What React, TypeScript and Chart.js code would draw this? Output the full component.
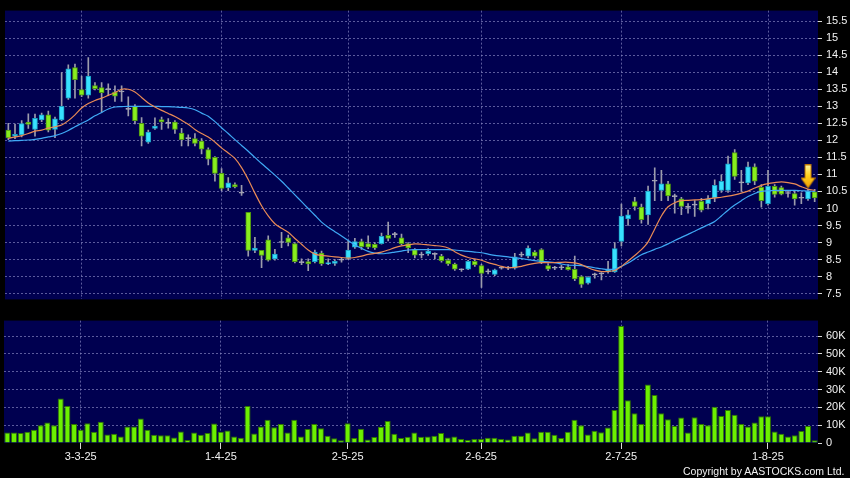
import React, { useEffect, useRef } from 'react';
import { Chart, registerables } from 'chart.js';

Chart.register(...registerables);

// ---- Daily OHLC (HKD) ----
const open = [
  12.30, 12.12, 12.16, 12.54, 12.32, 12.60, 12.75, 12.32, 12.60, 13.24,
  14.14, 13.49, 13.33, 13.61, 13.55, 13.49, 13.42, 13.42, 12.91, 13.00,
  12.50, 11.95, 12.35, 12.61, 12.50, 12.54, 12.21, 12.05, 12.05, 11.98,
  11.73, 11.50, 11.03, 10.61, 10.70, 10.45, 9.89, 8.77, 8.77, 9.08,
  8.52, 9.00, 9.14, 8.97, 8.41, 8.44, 8.44, 8.69, 8.37, 8.39,
  8.48, 8.53, 8.86, 9.03, 8.97, 8.95, 8.97, 9.21, 9.23, 9.14,
  8.97, 8.79, 8.63, 8.67, 8.65, 8.60, 8.48, 8.37, 8.20, 8.22,
  8.45, 8.32, 8.14, 8.06, 8.25, 8.25, 8.25, 8.63, 8.60, 8.72,
  8.79, 8.32, 8.25, 8.26, 8.29, 8.21, 8.00, 7.81, 8.05, 8.08,
  8.14, 8.14, 9.03, 9.69, 10.20, 10.04, 9.81, 10.80, 10.53, 10.72,
  10.35, 10.28, 10.03, 10.10, 10.21, 10.14, 10.31, 10.53, 10.53, 11.64,
  10.75, 10.75, 11.22, 10.62, 10.14, 10.65, 10.61, 10.44, 10.44, 10.30,
  10.28, 10.49,
];
const high = [
  12.50, 12.48, 12.58, 12.78, 12.77, 12.80, 12.86, 12.68, 13.99, 14.22,
  14.24, 13.89, 14.43, 13.70, 13.70, 13.66, 13.60, 13.60, 13.28, 13.05,
  12.67, 12.30, 12.66, 12.68, 12.64, 12.58, 12.35, 12.16, 12.20, 12.05,
  11.78, 11.52, 11.17, 10.91, 10.75, 10.68, 9.89, 9.15, 8.77, 9.20,
  8.80, 9.30, 9.22, 9.00, 8.52, 8.52, 8.78, 8.75, 8.52, 8.50,
  8.55, 9.05, 9.12, 9.10, 9.20, 9.00, 9.28, 9.60, 9.30, 9.25,
  9.00, 8.82, 8.72, 8.82, 8.70, 8.65, 8.52, 8.40, 8.23, 8.48,
  8.50, 8.36, 8.22, 8.22, 8.30, 8.30, 8.68, 8.72, 8.90, 8.76,
  8.82, 8.38, 8.30, 8.33, 8.35, 8.60, 8.03, 8.00, 8.10, 8.12,
  8.45, 9.00, 10.13, 9.95, 10.33, 10.13, 10.66, 11.19, 11.12, 10.80,
  10.42, 10.33, 10.14, 10.23, 10.30, 10.38, 10.84, 10.99, 11.54, 11.73,
  11.12, 11.36, 11.31, 10.70, 11.12, 10.70, 10.66, 10.51, 10.51, 10.46,
  10.56, 10.56,
];
const low = [
  12.02, 12.05, 12.10, 12.35, 12.12, 12.55, 12.25, 12.08, 12.58, 13.20,
  13.24, 13.28, 13.24, 13.48, 12.82, 13.32, 13.14, 13.14, 12.72, 12.48,
  11.84, 11.91, 12.32, 12.32, 12.36, 12.20, 11.84, 11.84, 11.84, 11.60,
  11.28, 10.80, 10.52, 10.52, 10.60, 10.38, 8.60, 8.70, 8.26, 8.45,
  8.48, 8.85, 8.90, 8.40, 8.35, 8.17, 8.40, 8.33, 8.35, 8.33,
  8.42, 8.50, 8.83, 8.80, 8.82, 8.80, 8.95, 9.05, 9.15, 8.93,
  8.70, 8.55, 8.55, 8.62, 8.52, 8.42, 8.33, 8.18, 8.15, 8.20,
  8.30, 7.68, 8.08, 8.03, 8.22, 8.20, 8.22, 8.58, 8.55, 8.55,
  8.38, 8.17, 8.20, 8.20, 8.19, 7.88, 7.68, 7.78, 7.95, 7.90,
  8.10, 8.12, 8.90, 9.50, 9.95, 9.57, 9.53, 10.23, 10.23, 10.23,
  9.86, 9.82, 9.86, 9.77, 9.90, 9.99, 10.20, 10.47, 10.47, 10.85,
  10.50, 10.70, 10.70, 10.04, 10.10, 10.33, 10.40, 10.33, 10.10, 10.14,
  10.24, 10.20,
];
const close = [
  12.07, 12.18, 12.49, 12.47, 12.65, 12.75, 12.30, 12.63, 13.00, 14.10,
  13.78, 13.33, 13.89, 13.52, 13.40, 13.49, 13.30, 13.42, 12.91, 12.58,
  12.12, 12.24, 12.42, 12.54, 12.50, 12.32, 12.02, 12.05, 11.91, 11.74,
  11.45, 11.03, 10.59, 10.75, 10.63, 10.45, 8.77, 8.84, 8.62, 8.48,
  8.66, 9.00, 9.00, 8.44, 8.41, 8.37, 8.72, 8.38, 8.41, 8.45,
  8.48, 8.78, 9.03, 8.88, 8.86, 8.84, 9.18, 9.12, 9.23, 8.97,
  8.84, 8.63, 8.63, 8.75, 8.65, 8.47, 8.37, 8.22, 8.20, 8.45,
  8.34, 8.09, 8.14, 8.20, 8.25, 8.25, 8.58, 8.63, 8.84, 8.60,
  8.41, 8.22, 8.25, 8.26, 8.20, 7.93, 7.77, 7.98, 8.05, 8.08,
  8.20, 8.82, 9.78, 9.81, 10.06, 9.67, 10.51, 10.80, 10.72, 10.37,
  10.35, 10.06, 10.03, 10.10, 9.95, 10.28, 10.68, 10.80, 11.31, 10.94,
  10.75, 11.22, 10.80, 10.23, 10.65, 10.41, 10.42, 10.44, 10.28, 10.30,
  10.51, 10.31,
];

// ---- Moving averages ----
const maFast = [
  12.06, 12.1, 12.14, 12.2, 12.27, 12.3, 12.36, 12.4, 12.45, 12.58,
  12.75, 12.95, 13.08, 13.17, 13.24, 13.32, 13.4, 13.5, 13.5, 13.42,
  13.26, 13.1, 12.98, 12.88, 12.79, 12.7, 12.59, 12.47, 12.32, 12.2,
  12.1, 11.95, 11.78, 11.63, 11.47, 11.2, 10.85, 10.45, 10.08, 9.78,
  9.55, 9.42, 9.3, 9.12, 8.95, 8.78, 8.66, 8.62, 8.6, 8.58,
  8.56, 8.54, 8.56, 8.6, 8.65, 8.68, 8.72, 8.78, 8.85, 8.9,
  8.93, 8.96, 8.95, 8.93, 8.91, 8.89, 8.84, 8.73, 8.63, 8.56,
  8.52, 8.48, 8.41, 8.36, 8.3, 8.26, 8.27, 8.3, 8.35, 8.39,
  8.41, 8.41, 8.41, 8.42, 8.42, 8.4, 8.35, 8.26, 8.19, 8.15,
  8.15, 8.18, 8.3, 8.46, 8.62, 8.79, 9.02, 9.4, 9.78, 10.05,
  10.17, 10.23, 10.24, 10.25, 10.26, 10.28, 10.31, 10.33, 10.36, 10.4,
  10.45, 10.51, 10.6, 10.68, 10.73, 10.76, 10.78, 10.76, 10.72, 10.64,
  10.57, 10.53,
];
const maSlow = [
  11.98, 11.99, 12.0, 12.01, 12.03, 12.06, 12.1, 12.14, 12.2, 12.29,
  12.4, 12.5, 12.6, 12.72, 12.82, 12.92, 12.98, 12.99, 13.0, 13.0,
  13.0, 13.0, 13.0, 12.99, 12.99, 12.98, 12.97, 12.95, 12.9, 12.8,
  12.71, 12.55, 12.37, 12.2, 12.02, 11.85, 11.68, 11.5, 11.32, 11.15,
  10.98, 10.8, 10.6, 10.4, 10.2, 10.0, 9.8, 9.6, 9.45, 9.32,
  9.19, 9.06, 8.93, 8.83, 8.74, 8.69, 8.67, 8.69, 8.72, 8.75,
  8.78, 8.79, 8.79, 8.79, 8.79, 8.79, 8.79, 8.78, 8.76, 8.74,
  8.72, 8.7, 8.66, 8.62, 8.6, 8.58, 8.55, 8.53, 8.5, 8.47,
  8.45, 8.43, 8.41, 8.37, 8.34, 8.33, 8.32, 8.29, 8.26, 8.23,
  8.21, 8.22, 8.3, 8.4, 8.52, 8.64, 8.72, 8.8, 8.87, 8.96,
  9.06, 9.15, 9.24, 9.33, 9.43, 9.52, 9.62, 9.78, 9.95, 10.1,
  10.23, 10.35, 10.44, 10.5, 10.52, 10.53, 10.53, 10.53, 10.53, 10.52,
  10.51, 10.5,
];

// ---- Volume (thousands of shares) ----
const volumeK = [
  5.9, 5.9, 5.6, 6.3, 7.4, 10, 11.5, 10, 25, 20.7,
  10.6, 7.4, 11.1, 6.3, 11.9, 4.8, 5.2, 3.7, 9.3, 9.3,
  13.7, 7.4, 4.6, 4.4, 4.4, 3.1, 6.5, 1.7, 5.9, 4.6,
  5.6, 10.9, 6.3, 7, 3.7, 3, 20.7, 5.4, 9.3, 13,
  8.9, 10.6, 5.9, 13, 3.7, 7.8, 10.6, 8.3, 4.1, 2.6,
  1.5, 11.1, 2.8, 8, 2, 3.3, 9.1, 12.4, 5.2, 2.8,
  3.5, 5.9, 3.5, 3.7, 4.1, 5.6, 3.1, 3.7, 2.2, 1.7,
  2.2, 2.2, 3, 3, 2.2, 1.9, 4.1, 4.1, 5.9, 2.6,
  6.3, 6.3, 4.6, 2.8, 6.3, 13, 10, 4.8, 6.9, 6.1,
  8.7, 18.5, 65.7, 24, 16.7, 10.6, 32.8, 26.9, 16.7, 13.3,
  9.6, 14.3, 5.9, 14.4, 10.6, 10, 20.4, 15.2, 18.5, 15.9,
  10.7, 9.3, 11.5, 15, 15, 6.5, 5.2, 3.7, 4.3, 6.7,
  9.6, 1.5,
];

// ---- Axis ticks ----
const monthTickLabels = ['3-3-25', '1-4-25', '2-5-25', '2-6-25', '2-7-25', '1-8-25'];
const monthTickIndex = [11, 32, 51, 71, 92, 114];
const priceMin = 7.33;
const priceMax = 15.81;
const priceStep = 0.5;
const volMax = 68.7;
const volStep = 10;

// ---- Signal marker ----
const signalIndex = 120;
const signalPrice = 10.94;

const categories = open.map((_, i) => String(i));

const FONT = 'Liberation Sans, Arial, sans-serif';
const GRID = 'rgba(130,130,190,0.7)';
const TEXT = '#f2f2f2';

const plotBg = {
  id: 'plotBg',
  beforeDraw(chart: any) {
    const { ctx, chartArea: a } = chart;
    ctx.save();
    ctx.fillStyle = '#000050';
    ctx.fillRect(a.left, a.top, a.right - a.left, a.bottom - a.top);
    ctx.restore();
  },
};

function makeArrow(): HTMLCanvasElement {
  const c = document.createElement('canvas');
  c.width = 15;
  c.height = 24;
  const g = c.getContext('2d')!;
  const grad = g.createLinearGradient(0, 0, 0, 24);
  grad.addColorStop(0, '#fff6a8');
  grad.addColorStop(0.45, '#ffd21e');
  grad.addColorStop(1, '#f29a00');
  g.fillStyle = grad;
  g.beginPath();
  g.moveTo(4.5, 0.5);
  g.lineTo(10.5, 0.5);
  g.lineTo(10.5, 13.5);
  g.lineTo(14.5, 13.5);
  g.lineTo(7.5, 23.5);
  g.lineTo(0.5, 13.5);
  g.lineTo(4.5, 13.5);
  g.closePath();
  g.fill();
  g.strokeStyle = '#c07800';
  g.lineWidth = 1;
  g.stroke();
  return c;
}

export default function App() {
  const topRef = useRef<HTMLCanvasElement>(null);
  const botRef = useRef<HTMLCanvasElement>(null);

  useEffect(() => {
    const bodies = open.map((o, i) => [o, close[i]]);
    const wicks = low.map((l, i) => [l, high[i]]);
    const bodyFill = open.map((o, i) =>
      close[i] > o ? '#38e2ff' : close[i] < o ? '#88ee1e' : '#a8a8b8'
    );
    const bodyBorder = open.map((o, i) =>
      close[i] > o ? '#1a9fc4' : close[i] < o ? '#4e9612' : '#a8a8b8'
    );
    const signalData = categories.map((_, i) => (i === signalIndex ? signalPrice : null));
    const isMonth = (i: number) => monthTickIndex.includes(i);

    const top = new Chart(topRef.current!, {
      type: 'bar',
      data: {
        labels: categories,
        datasets: [
          {
            type: 'line',
            label: 'signal',
            data: signalData as any,
            showLine: false,
            pointStyle: makeArrow() as any,
            pointRadius: 4,
            order: -1,
          },
          {
            type: 'line',
            label: 'MA10',
            data: maFast,
            borderColor: '#e98a55',
            borderWidth: 1.2,
            pointRadius: 0,
            tension: 0.3,
            order: 0,
          },
          {
            type: 'line',
            label: 'MA20',
            data: maSlow,
            borderColor: '#3fa9f5',
            borderWidth: 1.2,
            pointRadius: 0,
            tension: 0.3,
            order: 0,
          },
          {
            type: 'bar',
            label: 'body',
            data: bodies as any,
            backgroundColor: bodyFill,
            borderColor: bodyBorder,
            borderWidth: 1,
            borderSkipped: false,
            barThickness: 5,
            minBarLength: 1,
            grouped: false,
            order: 1,
          },
          {
            type: 'bar',
            label: 'wick',
            data: wicks as any,
            backgroundColor: '#9c9cac',
            borderWidth: 0,
            barThickness: 1,
            grouped: false,
            order: 2,
          },
        ],
      },
      options: {
        responsive: false,
        animation: false,
        events: [],
        layout: { padding: { left: 4, top: 5, right: 0, bottom: 4 } },
        plugins: { legend: { display: false }, tooltip: { enabled: false } },
        scales: {
          x: {
            type: 'category',
            offset: true,
            grid: {
              offset: false,
              drawTicks: false,
              color: (c: any) => (isMonth(c.index) ? GRID : 'transparent'),
            },
            border: { display: false, dash: [2, 2] },
            ticks: { display: false, autoSkip: false },
            afterFit: (s: any) => {
              s.height = 0;
            },
          },
          y: {
            position: 'right',
            min: priceMin,
            max: priceMax,
            grid: { color: GRID, tickColor: '#d8d8d8', tickLength: 4, drawTicks: true },
            border: { display: false, dash: [2, 2] },
            ticks: {
              stepSize: priceStep,
              includeBounds: false,
              color: TEXT,
              padding: 4,
              font: { family: FONT, size: 11 },
              callback: (v: any) => String(v),
            },
            afterFit: (s: any) => {
              s.width = 32;
            },
          },
        },
      } as any,
      plugins: [plotBg],
    });

    const bot = new Chart(botRef.current!, {
      type: 'bar',
      data: {
        labels: categories,
        datasets: [
          {
            label: 'Volume',
            data: volumeK,
            backgroundColor: '#6cf000',
            borderColor: '#2f7400',
            borderWidth: 1,
            barPercentage: 0.9,
            categoryPercentage: 1,
          },
        ],
      },
      options: {
        responsive: false,
        animation: false,
        events: [],
        layout: { padding: { left: 4, top: 9, right: 0, bottom: 0 } },
        plugins: { legend: { display: false }, tooltip: { enabled: false } },
        scales: {
          x: {
            type: 'category',
            offset: true,
            grid: {
              offset: false,
              drawTicks: true,
              tickLength: 6,
              color: (c: any) => (isMonth(c.index) ? GRID : 'transparent'),
              tickColor: (c: any) => (isMonth(c.index) ? '#d8d8d8' : 'transparent'),
            },
            border: { display: false, dash: [2, 2] },
            ticks: {
              autoSkip: false,
              maxRotation: 0,
              minRotation: 0,
              padding: 1,
              color: TEXT,
              font: { family: FONT, size: 11 },
              callback: (_v: any, i: number) => {
                const k = monthTickIndex.indexOf(i);
                return k >= 0 ? monthTickLabels[k] : '';
              },
            },
            afterFit: (s: any) => {
              s.height = 35;
            },
          },
          y: {
            position: 'right',
            min: 0,
            max: volMax,
            grid: {
              color: (c: any) => (c.tick && c.tick.value === 0 ? 'transparent' : GRID),
              tickColor: '#d8d8d8',
              tickLength: 4,
              drawTicks: true,
            },
            border: { display: false, dash: [2, 2] },
            ticks: {
              stepSize: volStep,
              includeBounds: false,
              color: TEXT,
              padding: 4,
              font: { family: FONT, size: 11 },
              callback: (v: any) => (v === 0 ? '0' : v + 'K'),
            },
            afterFit: (s: any) => {
              s.width = 32;
            },
          },
        },
      } as any,
      plugins: [plotBg],
    });

    return () => {
      top.destroy();
      bot.destroy();
    };
  }, []);

  return (
    <div
      style={{
        position: 'fixed',
        left: 0,
        top: 0,
        width: 850,
        height: 478,
        background: '#000',
        overflow: 'hidden',
      }}
    >
      <canvas ref={topRef} width={850} height={310} style={{ position: 'absolute', left: 0, top: 0 }} />
      <canvas ref={botRef} width={850} height={168} style={{ position: 'absolute', left: 0, top: 310 }} />
      <div
        style={{
          position: 'absolute',
          left: 683,
          top: 465,
          fontFamily: FONT,
          fontSize: 10.5,
          lineHeight: '12px',
          color: TEXT,
          whiteSpace: 'nowrap',
        }}
      >
        Copyright by AASTOCKS.com Ltd.
      </div>
    </div>
  );
}
